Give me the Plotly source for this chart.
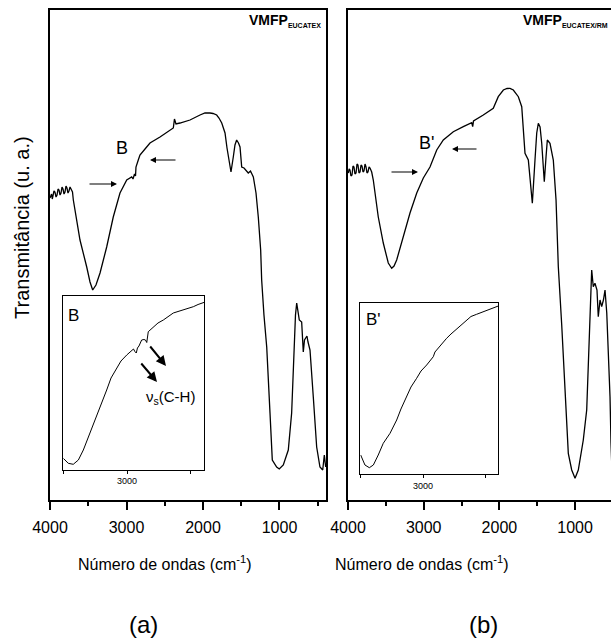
import plotly.graph_objects as go

W, H = 611, 642

# ---------------- data (wavenumber cm-1, transmittance a.u.) ----------------
wn_a = [4000, 3990, 3980, 3970, 3961, 3948, 3935, 3921, 3908, 3895, 3882, 3869, 3856, 3843,
        3830, 3817, 3804, 3791, 3778, 3765, 3752, 3738, 3725, 3706, 3695, 3651, 3608, 3520,
        3477, 3442, 3399, 3346, 3259, 3173, 3085, 2997, 2932, 2915, 2895, 2882, 2876, 2846,
        2824, 2758, 2693, 2562, 2471, 2388, 2373, 2353, 2301, 2170, 2039, 1974, 1908, 1869,
        1821, 1791, 1755, 1732, 1712, 1686, 1669, 1634, 1604, 1582, 1560, 1536, 1516, 1494,
        1464, 1438, 1408, 1379, 1342, 1307, 1277, 1246, 1233, 1203, 1167, 1124, 1094, 1037,
        1003, 950, 915, 885, 841, 810, 791, 775, 758, 741, 710, 689, 673, 658, 641, 627, 601,
        558, 514, 471, 435, 414, 396]
t_a = [302, 305, 306, 301, 304, 309, 308, 303, 305, 311, 310, 305, 307, 313,
       311, 306, 308, 314, 312, 307, 309, 313, 311, 308, 300, 280, 260, 233,
       218, 210, 215, 227, 253, 283, 307, 320, 323, 321, 326, 324, 333, 340,
       345, 351, 357, 363, 368, 372, 381, 376, 377, 380, 385, 387, 387, 386.5,
       385, 382, 377, 372, 367, 352, 343, 328, 343, 355, 360, 357, 353, 333,
       332, 330, 327, 329, 323, 307, 283, 250, 220, 185, 153, 87, 40, 33,
       31, 35, 42, 50, 87, 153, 185, 197, 190, 180, 178, 148, 160, 162, 164, 158, 150,
       103, 53, 33, 30, 45, 33]

wn_b = [3996, 3985, 3974, 3961, 3947, 3934, 3921, 3908, 3894, 3881, 3868, 3855, 3841, 3828,
        3815, 3802, 3789, 3775, 3762, 3749, 3736, 3722, 3709, 3687, 3666, 3643, 3600, 3534,
        3468, 3423, 3392, 3357, 3269, 3181, 3092, 3005, 2917, 2828, 2741, 2609, 2477, 2366,
        2353, 2342, 2213, 2081, 2015, 1948, 1899, 1860, 1816, 1750, 1705, 1684, 1662, 1618,
        1587, 1565, 1530, 1507, 1486, 1463, 1441, 1420, 1407, 1384, 1367, 1332, 1288, 1252,
        1222, 1177, 1133, 1090, 1045, 1001, 958, 892, 847, 826, 803, 781, 760, 738, 711, 694,
        671, 649, 626, 605, 582, 539, 526, 513]
t_b = [327, 331, 330, 324, 325, 334, 333, 326, 327, 336, 335, 327, 328, 335,
       334, 328, 329, 336, 333, 327, 328, 333, 332, 328, 320, 307, 283, 257,
       237, 231.7, 234, 240, 263, 287, 307, 322, 333, 350, 360, 368.3, 373.3, 377.3,
       373.3, 379, 385, 391.7, 403.3, 410, 411.5, 411.7, 410, 403.3, 393.3, 366.7, 346.7, 340,
       313.3, 296.7, 340, 367, 376.7, 373, 356.7, 326.7, 318.3, 343.3, 360, 356.7, 340, 300,
       233.3, 175, 103.3, 46.7, 30, 21.7, 30, 60, 90, 137, 186.7, 230, 213.3, 216.7, 210, 183.3,
       200, 193.3, 200, 210, 187, 103.3, 57, 30]

# inset (a): region B
wn_ia = [3500, 3461, 3422, 3382, 3343, 3291, 3238, 3205, 3160, 3126, 3082, 3048, 3003, 2964,
         2950, 2938, 2928, 2919, 2907, 2886, 2868, 2856, 2846, 2834, 2795, 2758, 2716, 2680,
         2638, 2601, 2560, 2523, 2481, 2444, 2403, 2395]
t_ia = [11.2, 6.2, 5.2, 9.5, 19.5, 36.5, 52.8, 64.5, 79.5, 91.5, 101.5, 108.5, 114.5, 119.5,
        120.5, 117.8, 116.5, 121.5, 123.5, 129.5, 130, 129.5, 127, 137.8, 142.8, 146.5, 149.5, 153,
        156.5, 158, 159.5, 161, 162.8, 165, 166.8, 167.2]

# inset (b): region B'
wn_ib = [3497, 3463, 3428, 3396, 3357, 3317, 3263, 3210, 3176, 3130, 3096, 3051, 3016, 2971,
         2945, 2918, 2905, 2891, 2857, 2812, 2777, 2732, 2698, 2652, 2618, 2573, 2538, 2493,
         2451, 2400]
t_ib = [19, 9, 6.3, 9, 19, 30.7, 40.7, 54, 65, 77.3, 87, 95.7, 103, 109,
        113, 117.3, 122, 124, 130, 135.7, 140, 144.7, 149, 154, 157.5, 159.7, 161.5, 163.3,
        165.5, 168]

main_ticks = [4000, 3000, 2000, 1000]
minor_ticks = [3500, 2500, 1500, 500]
inset_ticks = [3500, 3000, 2500]
inset_ticktext = ["", "3000", ""]

FONT = "Liberation Sans, Arial, sans-serif"


def px(x):
    return x / W


def py(y):
    return 1 - y / H


fig = go.Figure()
line = dict(color="black", width=1.3)
fig.add_trace(go.Scatter(x=wn_a, y=t_a, mode="lines", line=line, xaxis="x", yaxis="y"))
fig.add_trace(go.Scatter(x=wn_b, y=t_b, mode="lines", line=line, xaxis="x2", yaxis="y2"))
fig.add_trace(go.Scatter(x=wn_ia, y=t_ia, mode="lines", line=dict(color="black", width=1),
                         xaxis="x3", yaxis="y3"))
fig.add_trace(go.Scatter(x=wn_ib, y=t_ib, mode="lines", line=dict(color="black", width=1),
                         xaxis="x4", yaxis="y4"))

main_x = dict(tickvals=main_ticks, ticks="outside", ticklen=8, tickwidth=1.5, tickcolor="black",
              showline=True, linecolor="black", linewidth=2, showgrid=False, zeroline=False,
              tickfont=dict(size=16, color="black", family=FONT), ticklabelstandoff=4,
              automargin=False,
              minor=dict(tickvals=minor_ticks, ticks="outside", ticklen=4,
                         tickwidth=1.5, tickcolor="black", showgrid=False),
              mirror=True)
main_y = dict(showticklabels=False, ticks="", showgrid=False, zeroline=False, automargin=False,
              showline=True, linecolor="black", linewidth=1.5, range=[0, 490])

inset_x = dict(tickvals=inset_ticks, ticktext=inset_ticktext, ticks="outside", ticklen=3,
               tickwidth=1, tickcolor="black", showline=True, linecolor="black", linewidth=1,
               mirror=True, showgrid=False, zeroline=False, automargin=False,
               tickfont=dict(size=9, color="black", family=FONT))
inset_y = dict(showticklabels=False, ticks="", showgrid=False, zeroline=False, automargin=False,
               showline=True, linecolor="black", linewidth=1, mirror=True)

fig.update_layout(
    width=W, height=H, margin=dict(l=0, r=0, t=0, b=0, pad=0), autosize=False,
    paper_bgcolor="white", plot_bgcolor="white", showlegend=False,
    font=dict(family=FONT, color="black"),
    xaxis=dict(main_x, domain=[px(50), px(326)], range=[4000, 392], anchor="y"),
    yaxis=dict(main_y, domain=[py(500), py(10)], anchor="x", mirror=True),
    xaxis2=dict(main_x, domain=[px(348), 1.0], range=[4000, 526], anchor="y2"),
    yaxis2=dict(main_y, domain=[py(500), py(10)], anchor="x2", mirror=False),
    xaxis3=dict(inset_x, domain=[px(63.3), px(204.3)], range=[3500, 2395], anchor="y3"),
    yaxis3=dict(inset_y, domain=[py(469.5), py(295.7)], range=[0, 173.8], anchor="x3"),
    xaxis4=dict(inset_x, domain=[px(360.3), px(498.3)], range=[3500, 2400], anchor="y4"),
    yaxis4=dict(inset_y, domain=[py(474), py(302.7)], range=[0, 171.3], anchor="x4"),
)

ann = []


def text(x, y, s, size, xanchor="center", yanchor="middle", angle=0):
    ann.append(dict(x=px(x), y=py(y), xref="paper", yref="paper", text=s, showarrow=False,
                    xanchor=xanchor, yanchor=yanchor, textangle=angle,
                    font=dict(size=size, color="black", family=FONT)))


def arrow(x0, y0, x1, y1, width=1.2):
    ann.append(dict(x=px(x1), y=py(y1), xref="paper", yref="paper", text="",
                    showarrow=True, ax=x0 - x1, ay=y0 - y1, axref="pixel", ayref="pixel",
                    arrowhead=2, arrowsize=1, arrowwidth=width, arrowcolor="black"))


# axis titles and panel labels
text(22, 228, "Transmitância (u. a.)", 20, angle=-90)
text(165, 563, "Número de ondas (cm<sup>-1</sup>)", 16)
text(422, 563, "Número de ondas (cm<sup>-1</sup>)", 16)
text(143, 624, "(a)", 24)
text(483, 624, "(b)", 24)

# sample names
text(323, 20, "<b>VMFP</b><sub><b><span style='font-size:7px'>EUCATEX</span></b></sub>", 14,
     xanchor="right")
text(610, 20, "<b>VMFP</b><sub><b><span style='font-size:7px'>EUCATEX/RM</span></b></sub>", 14,
     xanchor="right")

# region markers
text(122, 148, "B", 18)
arrow(88, 184, 117, 184)
arrow(177, 160, 150, 160)
text(426, 143, "B'", 18)
arrow(390, 172, 418, 172)
arrow(478, 149, 452, 149)

# inset labels
text(73, 315, "B", 17)
text(373, 319, "B'", 17)
arrow(140, 362, 157, 382, width=2)
arrow(149, 345, 166, 366, width=2)
text(170, 397, "ν<sub>s</sub>(C-H)", 15)

fig.update_layout(annotations=ann)
fig.write_html("out.html", config={"displayModeBar": False},
               post_script="document.body.style.margin='0px';")
